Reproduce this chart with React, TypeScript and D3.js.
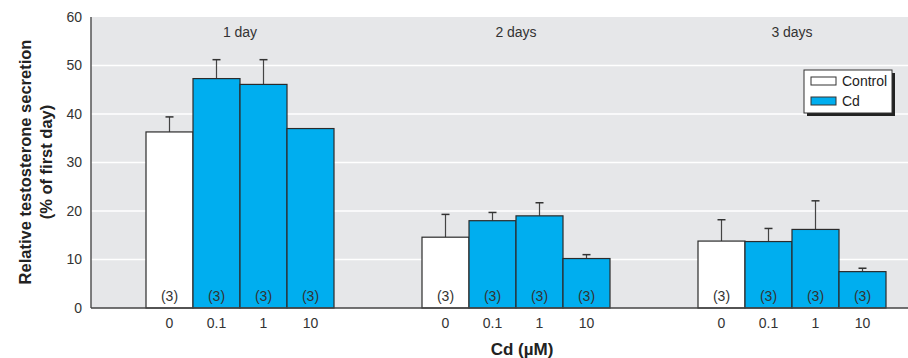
import React, { useEffect, useRef } from 'react';
import * as d3 from 'd3';

// data
const days = ['1 day', '2 days', '3 days'];
const doses = ['0', '0.1', '1', '10'];
const means = [
  [36.3, 47.3, 46.1, 37.0],
  [14.6, 18.0, 19.0, 10.2],
  [13.8, 13.7, 16.2, 7.5],
];
const errTops = [
  [39.4, 51.2, 51.2, 37.0],
  [19.3, 19.7, 21.7, 11.0],
  [18.2, 16.4, 22.1, 8.2],
];
const nLabels = ['(3)', '(3)', '(3)', '(3)'];
const yTicks = [0, 10, 20, 30, 40, 50, 60];
const legendItems = ['Control', 'Cd'];

const FONT = '"Liberation Sans Narrow", "Arial Narrow", "Liberation Sans", sans-serif';
const BLUE = '#00aeef';

const App = () => {
  const svgRef = useRef<SVGSVGElement>(null);

  useEffect(() => {
    const svg = d3.select(svgRef.current);
    svg.selectAll('*').remove();

    const width = 908;
    const height = 358;
    const margin = { top: 17, right: 0, bottom: 50, left: 91 };
    const graphWidth = width - margin.left - margin.right;
    const graphHeight = height - margin.top - margin.bottom;

    const g = svg.append('g')
      .attr('transform', `translate(${margin.left},${margin.top})`);

    // group centres
    const x0 = d3.scalePoint<string>()
      .domain(days)
      .range([149, graphWidth - 116]);

    // bars inside a group
    const x1 = d3.scaleBand<string>()
      .domain(doses)
      .range([-94, 94])
      .padding(0);

    const y = d3.scaleLinear()
      .domain([0, 60])
      .range([graphHeight, 0]);

    // background
    g.append('rect')
      .attr('width', graphWidth)
      .attr('height', graphHeight)
      .attr('fill', '#e6e7e9');

    // grid
    g.selectAll('.grid')
      .data(yTicks.filter(t => t > 0 && t < 60))
      .enter().append('line')
      .attr('x1', 0)
      .attr('x2', graphWidth)
      .attr('y1', d => y(d))
      .attr('y2', d => y(d))
      .attr('stroke', '#ffffff')
      .attr('stroke-width', 1.5);

    // y tick labels
    g.selectAll('.ytick')
      .data(yTicks)
      .enter().append('text')
      .attr('x', -9)
      .attr('y', d => y(d))
      .attr('dy', '0.35em')
      .attr('text-anchor', 'end')
      .style('font-family', FONT)
      .style('font-size', '14px')
      .style('fill', '#333')
      .text(d => d);

    const group = g.selectAll('.day')
      .data(days)
      .enter().append('g')
      .attr('transform', d => `translate(${x0(d)},0)`);

    group.append('text')
      .attr('x', 0)
      .attr('y', 15)
      .attr('dy', '0.35em')
      .attr('text-anchor', 'middle')
      .style('font-family', FONT)
      .style('font-size', '14px')
      .style('fill', '#333')
      .text(d => d);

    group.each(function (day, di) {
      const el = d3.select(this);
      const rows = doses.map((dose, i) => ({ dose, i, v: means[di][i], e: errTops[di][i] }));

      // error bars first so bar outline sits over them
      const err = rows.filter(r => r.e > r.v);
      el.selectAll('.err')
        .data(err)
        .enter().append('line')
        .attr('x1', r => x1(r.dose)! + x1.bandwidth() / 2)
        .attr('x2', r => x1(r.dose)! + x1.bandwidth() / 2)
        .attr('y1', r => y(r.v))
        .attr('y2', r => y(r.e))
        .attr('stroke', '#444')
        .attr('stroke-width', 1.2);
      el.selectAll('.cap')
        .data(err)
        .enter().append('line')
        .attr('x1', r => x1(r.dose)! + x1.bandwidth() / 2 - 4)
        .attr('x2', r => x1(r.dose)! + x1.bandwidth() / 2 + 4)
        .attr('y1', r => y(r.e))
        .attr('y2', r => y(r.e))
        .attr('stroke', '#333')
        .attr('stroke-width', 1.5);

      el.selectAll('.bar')
        .data(rows)
        .enter().append('rect')
        .attr('x', r => x1(r.dose)!)
        .attr('y', r => y(r.v))
        .attr('width', x1.bandwidth())
        .attr('height', r => graphHeight - y(r.v))
        .attr('fill', r => (r.i === 0 ? '#ffffff' : BLUE))
        .attr('stroke', '#2b2b2b')
        .attr('stroke-width', 1.2);

      el.selectAll('.n')
        .data(rows)
        .enter().append('text')
        .attr('x', r => x1(r.dose)! + x1.bandwidth() / 2)
        .attr('y', graphHeight - 12)
        .attr('dy', '0.35em')
        .attr('text-anchor', 'middle')
        .style('font-family', FONT)
        .style('font-size', '14px')
        .style('fill', '#333')
        .text(r => nLabels[r.i]);

      el.selectAll('.xtick')
        .data(rows)
        .enter().append('text')
        .attr('x', r => x1(r.dose)! + x1.bandwidth() / 2)
        .attr('y', graphHeight + 15)
        .attr('dy', '0.35em')
        .attr('text-anchor', 'middle')
        .style('font-family', FONT)
        .style('font-size', '14px')
        .style('fill', '#333')
        .text(r => r.dose);
    });

    // axes lines
    g.append('line')
      .attr('x1', 0).attr('x2', 0)
      .attr('y1', 0).attr('y2', graphHeight)
      .attr('stroke', '#555').attr('stroke-width', 1.5);
    g.append('line')
      .attr('x1', 0).attr('x2', graphWidth)
      .attr('y1', graphHeight).attr('y2', graphHeight)
      .attr('stroke', '#444').attr('stroke-width', 1.5);

    // x title
    g.append('text')
      .attr('x', 431)
      .attr('y', graphHeight + 41)
      .attr('dy', '0.35em')
      .attr('text-anchor', 'middle')
      .style('font-family', FONT)
      .style('font-size', '17px')
      .style('font-weight', 'bold')
      .style('fill', '#222')
      .text('Cd (µM)');

    // y title
    const yt = svg.append('text')
      .attr('transform', `translate(25,${margin.top + 145}) rotate(-90)`)
      .attr('text-anchor', 'middle')
      .style('font-family', FONT)
      .style('font-size', '16.5px')
      .style('font-weight', 'bold')
      .style('fill', '#222');
    yt.append('tspan').attr('x', 0).attr('dy', '0.35em').text('Relative testosterone secretion');
    yt.append('tspan').attr('x', 0).attr('dy', '1.3em').text('(% of first day)');

    // legend
    const lg = svg.append('g').attr('transform', 'translate(804,70)');
    lg.append('rect')
      .attr('x', 3).attr('y', 3)
      .attr('width', 88).attr('height', 43)
      .attr('fill', '#222');
    lg.append('rect')
      .attr('width', 88).attr('height', 43)
      .attr('fill', '#fff')
      .attr('stroke', '#333')
      .attr('stroke-width', 1);
    legendItems.forEach((name, i) => {
      lg.append('rect')
        .attr('x', 7).attr('y', 7 + i * 20)
        .attr('width', 25).attr('height', 8)
        .attr('fill', i === 0 ? '#fff' : BLUE)
        .attr('stroke', '#333')
        .attr('stroke-width', 1);
      lg.append('text')
        .attr('x', 38).attr('y', 11 + i * 20)
        .attr('dy', '0.35em')
        .style('font-family', FONT)
        .style('font-size', '14px')
        .style('fill', '#222')
        .text(name);
    });
  }, []);

  return (
    <div style={{ position: 'absolute', left: 0, top: 0, width: 908, height: 358, background: 'white' }}>
      <svg ref={svgRef} width={908} height={358} style={{ display: 'block' }} />
    </div>
  );
};

export default App;
